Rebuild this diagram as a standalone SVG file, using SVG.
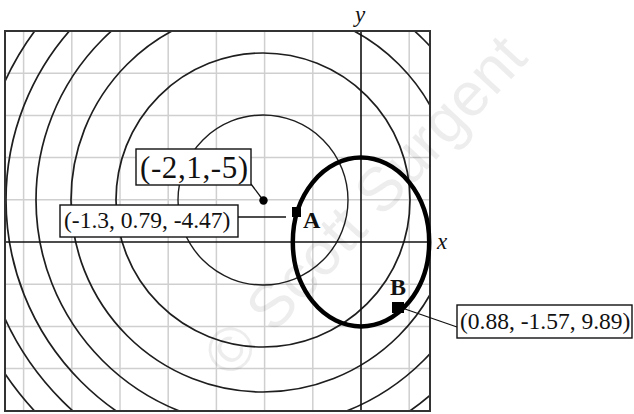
<svg xmlns="http://www.w3.org/2000/svg" width="634" height="414" viewBox="0 0 634 414">
<style>
.grid{stroke:#cfcfcf;stroke-width:1.5;fill:none}
.axis{stroke:#111;stroke-width:1.6;fill:none}
.contour{stroke:#1e1e1e;stroke-width:1.7;fill:none}
.curve{stroke:#000;stroke-width:4.5;fill:none}
.box{fill:#fff;stroke:#111;stroke-width:1.4}
.lead{stroke:#111;stroke-width:1.3;fill:none}
.lbl{font-family:"Liberation Serif","Times New Roman",serif;fill:#111}
.pt{font-family:"Liberation Serif","Times New Roman",serif;font-weight:bold;font-size:24px;fill:#111}
.ax{font-family:"Liberation Serif","Times New Roman",serif;font-style:italic;font-size:23px;fill:#111}
</style>
<defs>
<clipPath id="plot"><rect x="5" y="31" width="425" height="380"/></clipPath>
</defs>
<rect x="0" y="0" width="634" height="414" fill="#fff"/>
<g id="grid" class="grid">
<path d="M23.6 31V411M71.8 31V411M120 31V411M168.2 31V411M216.4 31V411M264.6 31V411M312.8 31V411M409.2 31V411"/>
<path d="M5 73.2H430M5 115.4H430M5 157.6H430M5 199.8H430M5 284.2H430M5 326.4H430M5 368.6H430"/>
</g>
<g id="contours" class="contour" clip-path="url(#plot)">
<circle cx="263" cy="200" r="85" stroke-width="1.4"/>
<circle cx="263" cy="200" r="147"/>
<circle cx="263" cy="200" r="192"/>
<circle cx="263" cy="200" r="227"/>
<circle cx="263" cy="200" r="257"/>
<circle cx="263" cy="200" r="284"/>
<circle cx="263" cy="200" r="311"/>
<circle cx="263" cy="200" r="334"/>
</g>
<g id="axes" class="axis">
<line x1="5" y1="242" x2="430" y2="242"/>
<line x1="361" y1="31" x2="361" y2="411"/>
</g>
<rect id="frame" x="5" y="31" width="425" height="380" fill="none" stroke="#333" stroke-width="2"/>
<text class="ax" x="355" y="22">y</text>
<text class="ax" x="437" y="249">x</text>
<g id="constraint">
<ellipse class="curve" cx="361" cy="242" rx="68.2" ry="84.4"/>
</g>
<g id="connectors">
<line class="lead" x1="251" y1="184" x2="263" y2="200"/>
<line class="lead" x1="238" y1="217" x2="286" y2="217"/>
<line class="lead" x1="405" y1="309" x2="457" y2="327"/>
</g>
<g id="center-point">
<circle cx="263.5" cy="200.5" r="4.2" fill="#000"/>
<rect class="box" x="136" y="149" width="115" height="36"/>
<text class="lbl" x="140" y="178" font-size="31" letter-spacing="0.6">(-2,1,-5)</text>
</g>
<g id="point-A">
<rect x="292" y="207" width="9" height="10" fill="#000"/>
<text class="pt" x="303" y="228">A</text>
<rect class="box" x="60" y="205" width="178" height="32"/>
<text class="lbl" x="64" y="228" font-size="23.5">(-1.3, 0.79, -4.47)</text>
</g>
<g id="point-B">
<rect x="392" y="302" width="12" height="11" fill="#000"/>
<text class="pt" x="390" y="295">B</text>
<rect class="box" x="457" y="305" width="175" height="33"/>
<text class="lbl" x="460" y="329" font-size="23.5">(0.88, -1.57, 9.89)</text>
</g>
<text id="watermark" x="380" y="220" font-family="'Liberation Sans',Arial,sans-serif" font-size="62" text-anchor="middle" fill="#000" fill-opacity="0.07" transform="rotate(-47 380 220)">© Scott Surgent</text>
</svg>
